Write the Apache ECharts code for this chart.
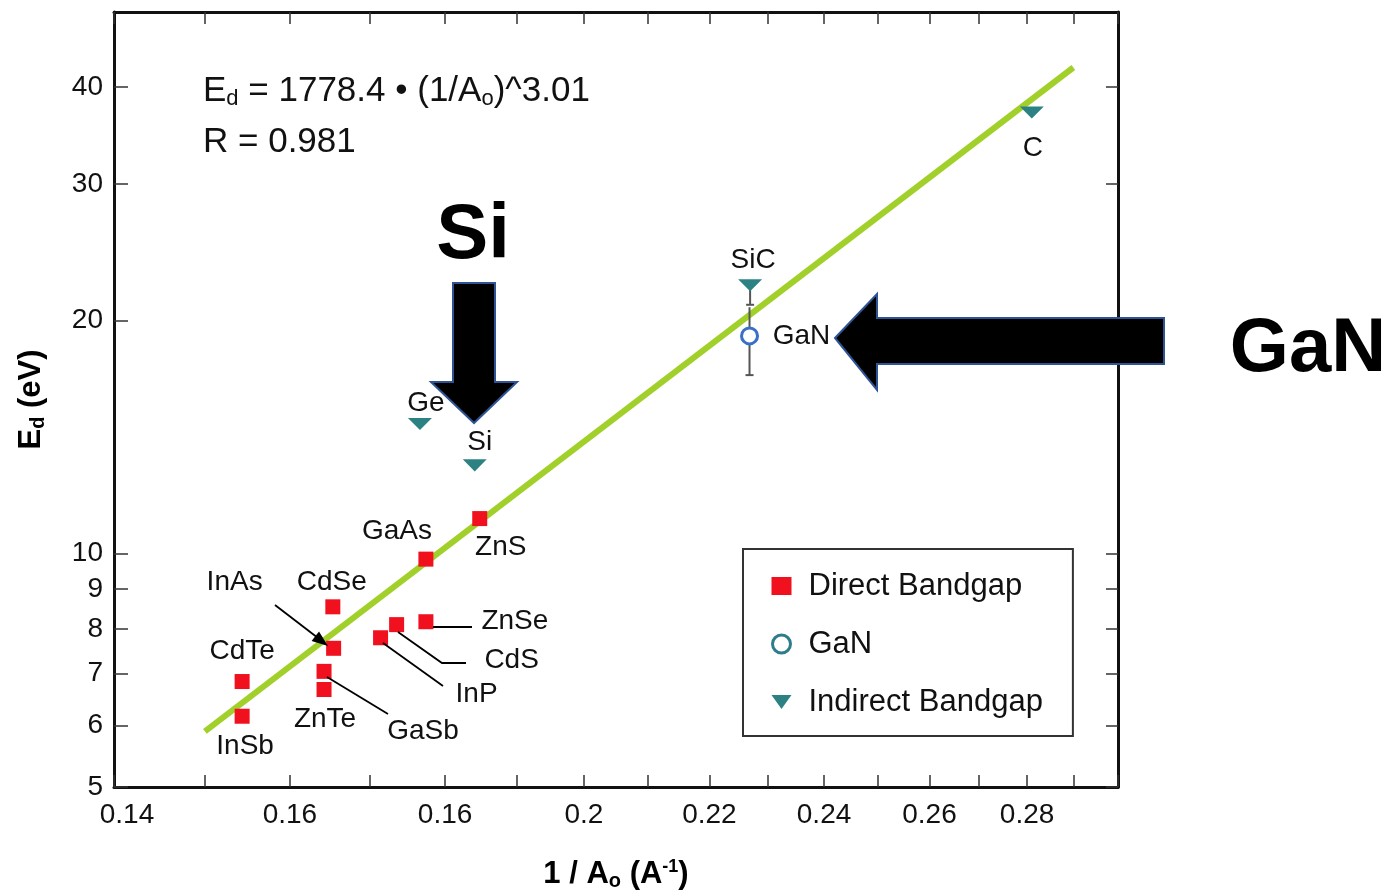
<!DOCTYPE html>
<html>
<head>
<meta charset="utf-8">
<title>Displacement energy vs 1/A0</title>
<script src="https://cdn.jsdelivr.net/npm/echarts@6/dist/echarts.min.js"></script>
<style>
  html, body { margin: 0; padding: 0; background: #ffffff; }
  #chart { width: 1396px; height: 896px; }
</style>
</head>
<body>
<div id="chart"></div>
<script>
// Displacement threshold energy E_d against inverse lattice constant 1/A0 (log-log)

// Direct bandgap semiconductors
const directNames = ['ZnS', 'GaAs', 'CdSe', 'ZnSe', 'CdS', 'InP', 'InAs', 'GaSb', 'ZnTe', 'CdTe', 'InSb'];
const directX = [0.1848, 0.1774, 0.1653, 0.1774, 0.1735, 0.1714, 0.1654, 0.1642, 0.1642, 0.1543, 0.1543];
const directY = [11.1, 9.84, 8.54, 8.17, 8.10, 7.79, 7.55, 7.05, 6.68, 6.84, 6.17];

// Indirect bandgap semiconductors
const indirectNames = ['C', 'SiC', 'Ge', 'Si'];
const indirectX = [0.281, 0.2269, 0.1766, 0.1841];
const indirectY = [37.1, 22.2, 14.7, 13.0];

// GaN
const ganNames = ['GaN'];
const ganX = [0.2268];
const ganY = [19.1];

// Error bars (x, low, high)
const errX = [0.2268, 0.2269];
const errLow = [17.0, 20.95];
const errHigh = [20.8, 22.2];

// Power-law fit endpoints
const fitX = [0.15, 0.29];
const fitY = [5.9, 42.4];

// Axis ticks and labels
const xTickValues = [0.14, 0.15, 0.16, 0.17, 0.18, 0.19, 0.20, 0.21, 0.22, 0.23, 0.24, 0.25, 0.26, 0.27, 0.28, 0.29, 0.30];
const xLabelValues = [0.14, 0.16, 0.18, 0.20, 0.22, 0.24, 0.26, 0.28];
const xTickLabels = ['0.14', '0.16', '0.16', '0.2', '0.22', '0.24', '0.26', '0.28'];
const yTickValues = [5, 6, 7, 8, 9, 10, 20, 30, 40];
const yTickLabels = ['5', '6', '7', '8', '9', '10', '20', '30', '40'];

const FONT = '"Liberation Sans", Arial, Helvetica, sans-serif';
const INK = '#000000';

// label placement relative to each marker centre [dx, dy]
const labelOffsets = {
  ZnS: [21, 29], GaAs: [-29, -28], CdSe: [-1, -25], ZnSe: [89, 0], CdS: [115, 36],
  InP: [96, 57], InAs: [-99, -66], GaSb: [99, 60], ZnTe: [1, 30], CdTe: [0, -30],
  InSb: [3, 30], C: [1, 36], SiC: [3, -25], Ge: [6, -21], Si: [5, -23], GaN: [52, 0]
};

function pointsWithLabels(names, xs, ys) {
  return names.map((n, i) => ({
    name: n,
    value: [xs[i], ys[i]],
    label: {
      show: true,
      position: 'inside',
      offset: labelOffsets[n] || [0, 0],
      formatter: n,
      fontSize: 28,
      color: '#111',
      textBorderWidth: 0,
      fontFamily: FONT
    }
  }));
}

function labelFor(values, labels) {
  return function (v) {
    let idx = values.findIndex(t => Math.abs(t - v) < 1e-6 * Math.max(1, Math.abs(t)));
    if (idx < 0) return '';
    if (values === xLabelValues && idx === 0) return '{first|' + labels[idx] + '}';
    return labels[idx];
  };
}

const axisLineStyle = { show: true, lineStyle: { color: '#111', width: 3 } };
const tickStyle = { color: '#333', width: 1.5 };

const chart = echarts.init(document.getElementById('chart'), null, { renderer: 'canvas' });

const option = {
  backgroundColor: '#ffffff',
  animation: false,
  textStyle: { fontFamily: FONT },
  grid: { left: 114, right: 278, top: 12, bottom: 103, containLabel: false },
  xAxis: [
    {
      type: 'log', logBase: 10, min: 0.14, max: 0.30, position: 'bottom',
      axisLine: axisLineStyle,
      axisTick: { show: true, inside: true, length: 12, customValues: xTickValues, lineStyle: tickStyle },
      minorTick: { show: false },
      splitLine: { show: false },
      axisLabel: {
        show: true, customValues: xLabelValues, formatter: labelFor(xLabelValues, xTickLabels),
        margin: 14, fontSize: 28, color: '#111', fontFamily: FONT,
        rich: { first: { fontSize: 28, color: '#111', fontFamily: FONT, padding: [0, 0, 0, 26] } }
      },
      name: '1 / A{s|o} (A{p|-1})',
      nameLocation: 'middle', nameGap: 70,
      nameTextStyle: {
        fontSize: 31, fontWeight: 'bold', color: INK, fontFamily: FONT,
        rich: {
          s: { fontSize: 20, fontWeight: 'bold', color: INK, fontFamily: FONT, padding: [14, 0, 0, 0] },
          p: { fontSize: 18, fontWeight: 'bold', color: INK, fontFamily: FONT, padding: [0, 0, 14, 0] }
        }
      }
    },
    {
      type: 'log', logBase: 10, min: 0.14, max: 0.30, position: 'top',
      axisLine: axisLineStyle,
      axisTick: { show: true, inside: true, length: 12, customValues: xTickValues, lineStyle: tickStyle },
      axisLabel: { show: false },
      splitLine: { show: false }
    }
  ],
  yAxis: [
    {
      type: 'log', logBase: 10, min: 5, max: 50, position: 'left',
      axisLine: axisLineStyle,
      axisTick: { show: true, inside: true, length: 14, customValues: yTickValues, lineStyle: tickStyle },
      minorTick: { show: false },
      splitLine: { show: false },
      axisLabel: {
        show: true, customValues: yTickValues, formatter: labelFor(yTickValues, yTickLabels),
        margin: 11, fontSize: 28, color: '#111', fontFamily: FONT
      },
      name: 'E{s|d} (eV)',
      nameLocation: 'middle', nameGap: 66, nameRotate: 90,
      nameTextStyle: {
        fontSize: 31, fontWeight: 'bold', color: INK, fontFamily: FONT,
        rich: { s: { fontSize: 20, fontWeight: 'bold', color: INK, fontFamily: FONT, padding: [14, 0, 0, 0] } }
      }
    },
    {
      type: 'log', logBase: 10, min: 5, max: 50, position: 'right',
      axisLine: axisLineStyle,
      axisTick: { show: true, inside: true, length: 12, customValues: yTickValues, lineStyle: tickStyle },
      axisLabel: { show: false },
      splitLine: { show: false }
    }
  ],
  legend: {
    orient: 'vertical',
    left: 743, top: 549,
    padding: [19, 30, 16, 28],
    itemGap: 22,
    itemWidth: 20, itemHeight: 18,
    borderColor: '#333', borderWidth: 2,
    backgroundColor: '#ffffff',
    textStyle: { fontSize: 31, color: '#111', fontFamily: FONT, lineHeight: 36, padding: [0, 0, 0, 12] },
    data: [
      { name: 'Direct Bandgap' },
      { name: 'GaN', itemStyle: { color: '#ffffff', borderColor: '#2e7d8c', borderWidth: 3 } },
      { name: 'Indirect Bandgap' }
    ]
  },
  series: [
    {
      name: 'fit', type: 'line', xAxisIndex: 0, yAxisIndex: 0,
      data: fitX.map((x, i) => [x, fitY[i]]),
      symbol: 'none', silent: true, z: 2,
      lineStyle: { color: '#A2D02A', width: 6 }
    },
    {
      name: 'error', type: 'custom', xAxisIndex: 0, yAxisIndex: 0, z: 3, silent: true,
      data: errX.map((x, i) => [x, errLow[i], errHigh[i]]),
      encode: { x: 0, y: [1, 2] },
      renderItem: function (params, api) {
        const x = api.value(0);
        const lo = api.coord([x, api.value(1)]);
        const hi = api.coord([x, api.value(2)]);
        const w = 4;
        const st = { stroke: '#555', lineWidth: 2 };
        return {
          type: 'group',
          children: [
            { type: 'line', shape: { x1: lo[0], y1: lo[1], x2: hi[0], y2: hi[1] }, style: st },
            { type: 'line', shape: { x1: lo[0] - w, y1: lo[1], x2: lo[0] + w, y2: lo[1] }, style: st }
          ]
        };
      }
    },
    {
      name: 'Direct Bandgap', type: 'scatter', xAxisIndex: 0, yAxisIndex: 0, z: 5,
      symbol: 'rect', symbolSize: 15,
      itemStyle: { color: '#F0101E', opacity: 1 },
      data: pointsWithLabels(directNames, directX, directY)
    },
    {
      name: 'GaN', type: 'scatter', xAxisIndex: 0, yAxisIndex: 0, z: 5,
      symbol: 'circle', symbolSize: 16,
      itemStyle: { color: '#ffffff', borderColor: '#3A6FC8', borderWidth: 3, opacity: 1 },
      data: pointsWithLabels(ganNames, ganX, ganY)
    },
    {
      name: 'Indirect Bandgap', type: 'scatter', xAxisIndex: 0, yAxisIndex: 0, z: 5,
      symbol: 'path://M0,0 L24,0 L12,17 Z', symbolSize: [24, 17], symbolKeepAspect: true,
      itemStyle: { color: '#2C8282', opacity: 1 },
      data: pointsWithLabels(indirectNames, indirectX, indirectY)
    }
  ],
  graphic: [
    // fit equation
    {
      type: 'text', x: 203, y: 91, z: 20,
      style: {
        text: 'E{s|d} = 1778.4 • (1/A{s|o})^3.01',
        fontSize: 35, fill: '#111', fontFamily: FONT, verticalAlign: 'middle',
        rich: { s: { fontSize: 22, fill: '#111', fontFamily: FONT, padding: [16, 0, 0, 0] } }
      }
    },
    {
      type: 'text', x: 203, y: 142, z: 20,
      style: { text: 'R = 0.981', fontSize: 35, fill: '#111', fontFamily: FONT, verticalAlign: 'middle' }
    },
    // leader lines
    { type: 'polyline', z: 20, shape: { points: [[433, 627], [472, 627]] }, style: { stroke: INK, lineWidth: 1.8, fill: null } },
    { type: 'polyline', z: 20, shape: { points: [[398, 632], [442, 663], [466, 663]] }, style: { stroke: INK, lineWidth: 1.8, fill: null } },
    { type: 'polyline', z: 20, shape: { points: [[383, 643], [443, 686]] }, style: { stroke: INK, lineWidth: 1.8, fill: null } },
    { type: 'polyline', z: 20, shape: { points: [[327, 677], [388, 714]] }, style: { stroke: INK, lineWidth: 1.8, fill: null } },
    { type: 'polyline', z: 20, shape: { points: [[275, 605], [318, 638]] }, style: { stroke: INK, lineWidth: 1.8, fill: null } },
    { type: 'polygon', z: 20, shape: { points: [[328, 646], [311.6, 640.9], [319, 631.5]] }, style: { fill: INK } },
    // Si callout
    {
      type: 'text', x: 473, y: 236, z: 30,
      style: { text: 'Si', fontSize: 78, fontWeight: 'bold', fill: '#000', fontFamily: FONT, align: 'center', verticalAlign: 'middle' }
    },
    {
      type: 'polygon', z: 30,
      shape: { points: [[453, 283], [495, 283], [495, 382], [517, 382], [474, 423], [431, 382], [453, 382]] },
      style: { fill: '#000', stroke: '#2F5496', lineWidth: 2 }
    },
    // GaN callout
    {
      type: 'polygon', z: 30,
      shape: { points: [[835, 338], [877, 294], [877, 318], [1164, 318], [1164, 364], [877, 364], [877, 390]] },
      style: { fill: '#000', stroke: '#2F5496', lineWidth: 2 }
    },
    {
      type: 'text', x: 1308, y: 350, z: 30,
      style: { text: 'GaN', fontSize: 76, fontWeight: 'bold', fill: '#000', fontFamily: FONT, align: 'center', verticalAlign: 'middle' }
    }
  ]
};

chart.setOption(option);
</script>
</body>
</html>
